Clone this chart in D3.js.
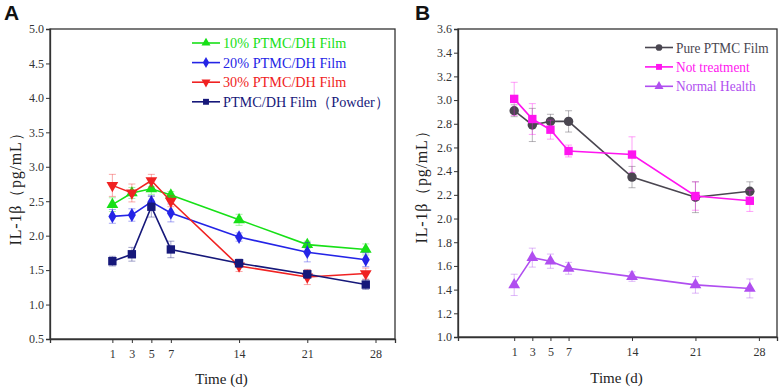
<!DOCTYPE html>
<html>
<head>
<meta charset="utf-8">
<script src="https://cdn.jsdelivr.net/npm/d3@7"></script>
<style>
  body { margin: 0; background: #fff; }
  svg { display: block; }
  .tick text { font-family: "Liberation Serif", "Times New Roman", serif; font-size: 12px; fill: #333; }
  .title { font-family: "Liberation Serif", "Times New Roman", serif; font-size: 15px; fill: #222; }
  .ytitle { font-family: "Liberation Serif", "Times New Roman", serif; font-size: 16px; fill: #222; letter-spacing: 0.8px; }
  .legend text { font-family: "Liberation Serif", "Times New Roman", serif; font-size: 15px; }
  .panel-label { font-family: "Liberation Sans", Arial, sans-serif; font-weight: bold; font-size: 21px; fill: #111; }
</style>
</head>
<body>
<div id="chart-area"></div>
<script>
// days sampled and the tick labels shown on the x axis
let days = [1, 3, 5, 7, 14, 21, 27];
let dayTicks = [1, 3, 5, 7, 14, 21, 28];

// panel A - IL-1β for the PTMC/DH films
let namesA = ["10% PTMC/DH Film", "20% PTMC/DH Film", "30% PTMC/DH Film", "PTMC/DH Film（Powder）"];
let film10 = [2.45, 2.62, 2.68, 2.59, 2.23, 1.87, 1.80];
let film10Err = [0.10, 0.08, 0.08, 0.05, 0.08, 0.05, 0.08];
let film20 = [2.28, 2.30, 2.49, 2.33, 1.98, 1.76, 1.65];
let film20Err = [0.10, 0.09, 0.09, 0.13, 0.06, 0.14, 0.10];
let film30 = [2.73, 2.62, 2.80, 2.50, 1.56, 1.40, 1.45];
let film30Err = [0.16, 0.13, 0.09, 0.08, 0.08, 0.11, 0.08];
let powder = [1.63, 1.73, 2.42, 1.80, 1.60, 1.44, 1.29];
let powderErr = [0.07, 0.10, 0.15, 0.12, 0.06, 0.06, 0.07];
let yTicksA = [0.5, 1.0, 1.5, 2.0, 2.5, 3.0, 3.5, 4.0, 4.5, 5.0];

// panel B - IL-1β for the controls
let namesB = ["Pure PTMC Film", "Not treatment", "Normal Health"];
let purePTMC = [2.91, 2.79, 2.82, 2.82, 2.35, 2.18, 2.23];
let purePTMCErr = [0.05, 0.14, 0.06, 0.09, 0.09, 0.13, 0.08];
let notTreated = [3.01, 2.84, 2.75, 2.57, 2.54, 2.19, 2.15];
let notTreatedErr = [0.14, 0.13, 0.08, 0.05, 0.15, 0.12, 0.09];
let normal = [1.44, 1.67, 1.64, 1.58, 1.51, 1.44, 1.41];
let normalErr = [0.09, 0.08, 0.06, 0.05, 0.04, 0.07, 0.08];
let yTicksB = [1.0, 1.2, 1.4, 1.6, 1.8, 2.0, 2.2, 2.4, 2.6, 2.8, 3.0, 3.2, 3.4, 3.6];

let svg = d3.select("#chart-area").append("svg")
	.attr("width", 782)
	.attr("height", 391);

drawPanel({
	label: "A", labelX: 4, labelY: 20,
	left: 50, top: 29, right: 395, bottom: 339,
	xDomain: [-5.4, 30], yDomain: [0.5, 5.0], yTicks: yTicksA, yFormat: d3.format(".1f"),
	yTitleX: 21, yTitleY: 185, xTitleY: 384,
	legendX: 192, legendY: 43, legendStep: 19.6, legendSquash: 0.95,
	series: [
		{name: namesA[0], values: film10, err: film10Err, color: "#17e017", symbol: "up"},
		{name: namesA[1], values: film20, err: film20Err, color: "#2424e6", symbol: "diamond"},
		{name: namesA[2], values: film30, err: film30Err, color: "#f02222", symbol: "down"},
		{name: namesA[3], values: powder, err: powderErr, color: "#16187a", symbol: "square"}
	]
});

drawPanel({
	label: "B", labelX: 415, labelY: 20,
	left: 458, top: 29, right: 777, bottom: 337,
	xDomain: [-5.2, 30], yDomain: [1.0, 3.6], yTicks: yTicksB, yFormat: d3.format(".1f"),
	yTitleX: 427, yTitleY: 183, xTitleY: 383,
	legendX: 645, legendY: 47.5, legendStep: 19.4, legendSquash: 0.89,
	series: [
		{name: namesB[0], values: purePTMC, err: purePTMCErr, color: "#4a4650", symbol: "circle"},
		{name: namesB[1], values: notTreated, err: notTreatedErr, color: "#ff14f0", symbol: "square"},
		{name: namesB[2], values: normal, err: normalErr, color: "#b04ef0", symbol: "up"}
	]
});

function symbolType(kind) {
	if (kind === "circle") return d3.symbolCircle;
	if (kind === "diamond") return d3.symbolDiamond;
	if (kind === "square") return d3.symbolSquare;
	return d3.symbolTriangle;
}

function drawPanel(p) {
	let g = svg.append("g");

	let x = d3.scaleLinear().domain(p.xDomain).range([p.left, p.right]);
	let y = d3.scaleLinear().domain(p.yDomain).range([p.bottom, p.top]);

	// frame
	g.append("rect")
		.attr("x", p.left).attr("y", p.top)
		.attr("width", p.right - p.left).attr("height", p.bottom - p.top)
		.attr("fill", "none").attr("stroke", "#333").attr("stroke-width", 1.3);

	let yAxis = d3.axisLeft(y).tickValues(p.yTicks).tickFormat(p.yFormat).tickSize(4).tickPadding(2);
	g.append("g")
		.attr("transform", "translate(" + p.left + ",0)")
		.call(yAxis)
		.call(a => a.select(".domain").attr("stroke", "#333").attr("stroke-width", 1.3))
		.call(a => a.selectAll(".tick line").attr("stroke", "#333"));

	let xAxis = d3.axisBottom(x).tickValues(dayTicks).tickSize(4).tickPadding(6);
	g.append("g")
		.attr("transform", "translate(0," + p.bottom + ")")
		.call(xAxis)
		.call(a => a.select(".domain").attr("stroke", "#333").attr("stroke-width", 1.3))
		.call(a => a.selectAll(".tick line").attr("stroke", "#333"));

	// titles
	g.append("text").attr("class", "panel-label")
		.attr("x", p.labelX).attr("y", p.labelY).text(p.label);

	g.append("text").attr("class", "ytitle")
		.attr("transform", "translate(" + p.yTitleX + "," + p.yTitleY + ") rotate(-90)")
		.attr("text-anchor", "middle")
		.text("IL-1β（pg/mL）");

	g.append("text").attr("class", "title")
		.attr("x", (p.left + p.right) / 2 - 1).attr("y", p.xTitleY)
		.attr("text-anchor", "middle")
		.text("Time (d)");

	let line = d3.line()
		.x((d, i) => x(days[i]))
		.y(d => y(d));

	p.series.forEach(s => {
		let sg = g.append("g");
		// error bars
		s.values.forEach((v, i) => {
			let cx = x(days[i]);
			let eb = sg.append("g").attr("stroke", s.color).attr("stroke-opacity", 0.4).attr("stroke-width", 1);
			eb.append("line").attr("x1", cx).attr("x2", cx).attr("y1", y(v - s.err[i])).attr("y2", y(v + s.err[i]));
			eb.append("line").attr("x1", cx - 3.5).attr("x2", cx + 3.5).attr("y1", y(v + s.err[i])).attr("y2", y(v + s.err[i]));
			eb.append("line").attr("x1", cx - 3.5).attr("x2", cx + 3.5).attr("y1", y(v - s.err[i])).attr("y2", y(v - s.err[i]));
		});

		sg.append("path")
			.attr("d", line(s.values))
			.attr("fill", "none")
			.attr("stroke", s.color)
			.attr("stroke-width", 1.6);

		let size = s.symbol === "diamond" ? 55 : s.symbol === "up" || s.symbol === "down" ? 60 : 70;
		sg.selectAll(".pt")
			.data(s.values)
			.enter().append("path")
			.attr("class", "pt")
			.attr("d", d3.symbol(symbolType(s.symbol), size)())
			.attr("transform", (d, i) => "translate(" + x(days[i]) + "," + y(d) + ")" + (s.symbol === "down" ? " rotate(180)" : ""))
			.attr("fill", s.color);
	});

	// legend
	let legend = g.append("g").attr("class", "legend");
	p.series.forEach((s, i) => {
		let ly = p.legendY + i * p.legendStep;
		let row = legend.append("g");
		row.append("line")
			.attr("x1", p.legendX).attr("x2", p.legendX + 28)
			.attr("y1", ly).attr("y2", ly)
			.attr("stroke", s.color).attr("stroke-width", 1.6);
		row.append("path")
			.attr("d", d3.symbol(symbolType(s.symbol), 35)())
			.attr("transform", "translate(" + (p.legendX + 14) + "," + ly + ")" + (s.symbol === "down" ? " rotate(180)" : ""))
			.attr("fill", s.color);
		row.append("text")
			.attr("transform", "translate(" + (p.legendX + 31) + "," + (ly + 5) + ") scale(" + p.legendSquash + ",1)")
			.attr("fill", s.color)
			.text(s.name);
	});
}
</script>
</body>
</html>
